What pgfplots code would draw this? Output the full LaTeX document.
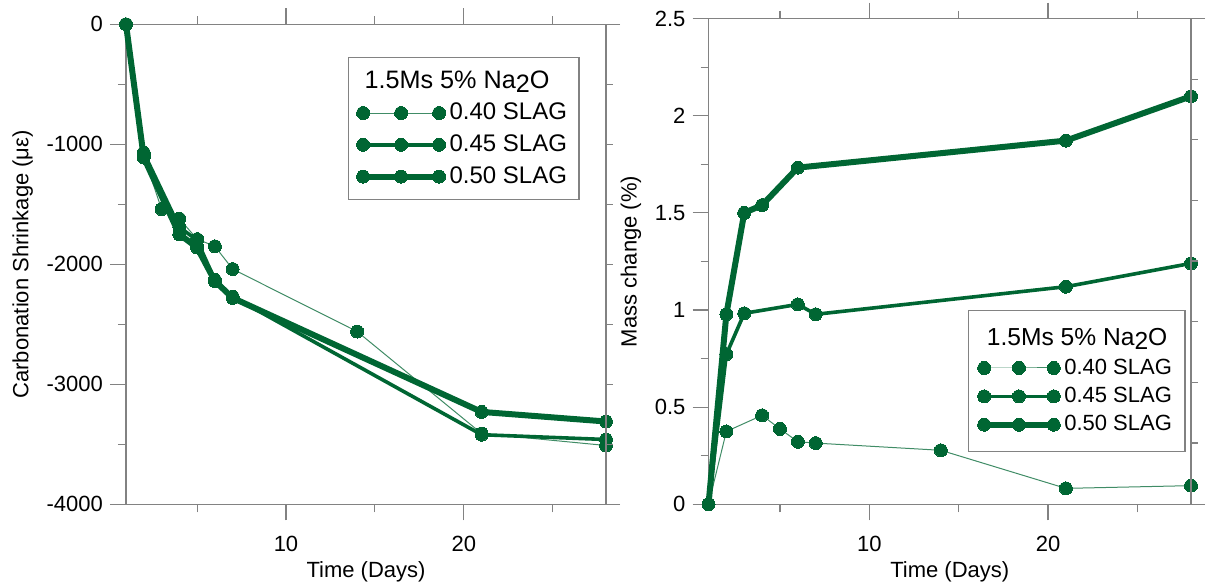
\documentclass[border=0pt]{standalone}
\usepackage{fontspec}
\setmainfont{Liberation Sans}
\usepackage{pgfplots}
\pgfplotsset{compat=1.18}
\definecolor{dg}{RGB}{0,102,51}
\definecolor{ax}{RGB}{130,130,130}
\pgfplotsset{
  base/.style={
    scale only axis, anchor=south west, clip=false,
    xmin=1, xmax=28,
    xtick={10,20}, minor xtick={5,15,25},
    tick align=outside,
    major tick length=8pt, minor tick length=4pt,
    axis line style={ax, line width=0.6pt},
    every tick/.style={ax, line width=0.6pt},
    tick label style={font=\fontsize{11}{13}\selectfont, black},
    xticklabel style={yshift=-4.5pt},
    xlabel style={yshift=2pt},
    label style={font=\fontsize{11}{13}\selectfont},
    /pgf/number format/assume math mode=true,
    /pgf/number format/1000 sep={},
    ytick pos=left, xtick pos=both, xticklabel pos=lower,
    legend cell align=left,
  },
  over/.style={
    scale only axis, anchor=south west, clip=false,
    xmin=1, xmax=28, hide x axis,
    axis y line*=right, tick align=outside,
    major tick length=3.4pt,
    axis line style={ax, line width=0.6pt},
    every tick/.style={ax, line width=0.6pt},
    yticklabels={},
    extra tick style={major tick length=7pt},
    extra y tick labels={},
  },
  s40/.style={color=dg!75, line width=0.5pt, mark=*, mark size=3.25pt, mark options={fill=dg, draw=dg, line width=0pt}},
  s45/.style={color=dg, line width=1.8pt, mark=*, mark size=3.25pt, mark options={fill=dg, draw=dg, line width=0pt}},
  s50/.style={color=dg, line width=3pt, mark=*, mark size=3.25pt, mark options={fill=dg, draw=dg, line width=0pt}},
}
\begin{document}
\begin{tikzpicture}
\useasboundingbox (0pt,0pt) rectangle (603pt,292pt);
% ---------- left panel ----------
\begin{axis}[base,
  at={(63pt,39.85pt)}, width=240pt, height=240pt,
  ymin=-4000, ymax=0,
  ytick={-4000,-3000,-2000,-1000,0}, minor ytick={-3500,-2500,-1500,-500},
  xlabel={Time (Days)}, ylabel={Carbonation Shrinkage (με)},
  legend image code/.code={\draw[#1] plot coordinates {(0pt,0pt) (19pt,0pt) (38pt,0pt)};},
  legend style={at={(0.4625,0.932)}, anchor=north west, draw=ax, line width=0.6pt,
    font=\fontsize{12}{14}\selectfont, row sep=2pt, inner ysep=4.5pt, inner xsep=4pt},
]
\addlegendimage{empty legend}
\addlegendentry{\makebox[0pt][l]{\hspace*{-42.5pt}\fontsize{12.6}{14}\selectfont 1.5Ms 5\% Na\raisebox{-0.3ex}{2}O}}
\addplot[s40] coordinates {(1,0) (2,-1100) (3,-1540) (4,-1620) (5,-1790) (6,-1850) (7,-2040) (14,-2560) (21,-3410) (28,-3510)};
\addlegendentry{0.40 SLAG}
\addplot[s45] coordinates {(1,0) (2,-1070) (4,-1690) (5,-1800) (6,-2130) (7,-2270) (21,-3420) (28,-3460)};
\addlegendentry{0.45 SLAG}
\addplot[s50] coordinates {(1,0) (2,-1110) (4,-1750) (5,-1860) (6,-2140) (7,-2280) (21,-3230) (28,-3310)};
\addlegendentry{0.50 SLAG}
\end{axis}
\begin{axis}[over, at={(63pt,39.85pt)}, width=240pt, height=240pt,
  ymin=-4000, ymax=0, ytick={-3500,-3000,-2500,-2000,-1500,-1000,-500},
  extra y ticks={-4000,0}]
\end{axis}
% ---------- right panel ----------
\begin{axis}[base,
  at={(354.25pt,39.85pt)}, width=241.25pt, height=242.85pt,
  ymin=0, ymax=2.5,
  ytick={0,0.5,1,1.5,2,2.5}, minor ytick={0.25,0.75,1.25,1.75,2.25},
  yticklabels={0,0.5,1,1.5,2,2.5},
  xlabel={Time (Days)}, ylabel={Mass change (\%)},
  legend image code/.code={\draw[#1] plot coordinates {(0pt,0pt) (17.4pt,0pt) (34.8pt,0pt)};},
  legend style={at={(0.538,0.400)}, anchor=north west, draw=ax, line width=0.6pt,
    font=\fontsize{11}{13}\selectfont, row sep=1pt, inner ysep=7pt, inner xsep=4.5pt},
]
\addlegendimage{empty legend}
\addlegendentry{\makebox[0pt][l]{\hspace*{-38.7pt}\fontsize{12.3}{14}\selectfont 1.5Ms 5\% Na\raisebox{-0.3ex}{2}O}}
\addplot[s40] coordinates {(1,0) (2,0.375) (4,0.458) (5,0.388) (6,0.322) (7,0.315) (14,0.278) (21,0.082) (28,0.096)};
\addlegendentry{0.40 SLAG}
\addplot[s45] coordinates {(1,0) (2,0.772) (3,0.983) (6,1.029) (7,0.978) (21,1.12) (28,1.24)};
\addlegendentry{0.45 SLAG}
\addplot[s50] coordinates {(1,0) (2,0.978) (3,1.50) (4,1.54) (6,1.733) (21,1.872) (28,2.10)};
\addlegendentry{0.50 SLAG}
\end{axis}
\begin{axis}[over, at={(354.25pt,39.85pt)}, width=241.25pt, height=242.85pt,
  ymin=0, ymax=2.5, ytick={0.316,0.628,0.940,1.252,1.564,1.876,2.188},
  extra y ticks={0,2.5}]
\end{axis}
\end{tikzpicture}
\end{document}
